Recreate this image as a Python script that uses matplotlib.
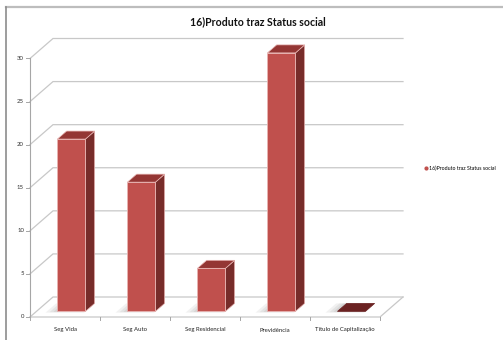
import matplotlib
matplotlib.use("Agg")
import matplotlib.pyplot as plt
from matplotlib.patches import Polygon
from matplotlib.lines import Line2D

# ---- data ----
categories = ["Seg Vida", "Seg Auto", "Seg Residencial", "Previdência",
              "Título de Capitalização"]
values = [20, 15, 5, 30, 0]
series_name = "16)Produto traz Status social"
title = "16)Produto traz Status social"
y_ticks = [0, 5, 10, 15, 20, 25, 30]

# ---- look ----
FONT = ["Lato", "DejaVu Sans"]
C_FRONT = "#C0504D"
C_SIDE = "#772C2A"
C_TOP = "#943634"
C_FLAT = "#6B2222"
C_EDGE = "#E8B4B2"
C_GRID = "#C8C8C8"
C_AXIS = "#A6A6A6"

W, H, DPI = 503, 340, 100
PX_CAT = 70.0            # pixels per category on the front plane
PX_VAL = 258.5 / 30      # pixels per value unit
X0_PX, Y0_PX = 30, 317   # origin of the front plane (pixels from top-left)
DEPTH_X = 23 / PX_CAT    # oblique depth offset, in data units
DEPTH_Y = 20 / PX_VAL
BAR_HALF = 0.2
D_FRONT, D_BACK = 0.28, 0.68

fig = plt.figure(figsize=(W / DPI, H / DPI), dpi=DPI)
ax = fig.add_axes([0, 0, 1, 1])
ax.set_xlim(-X0_PX / PX_CAT, (W - X0_PX) / PX_CAT)
ax.set_ylim((Y0_PX - H) / PX_VAL, Y0_PX / PX_VAL)
ax.axis("off")

n = len(categories)
vmax = y_ticks[-1]


def proj(x, v, d):
    return (x + d * DEPTH_X, v + d * DEPTH_Y)


# frame round the chart
fig.add_artist(Line2D([6 / W, 1], [1 - 6.5 / H] * 2, color="#BDBDBD", lw=1.6))
fig.add_artist(Line2D([6 / W] * 2, [0, 1 - 6.5 / H], color="#8C8C8C", lw=1.2))

# walls and floor gridlines
for v in y_ticks:
    a, b = proj(0, v, 0), proj(0, v, 1)
    c = proj(n, v, 1)
    ax.plot([a[0], b[0], c[0]], [a[1], b[1], c[1]], color=C_GRID, lw=0.9,
            solid_joinstyle="miter", zorder=1)
f0, f1 = proj(0, 0, 0), proj(n, 0, 0)
f2 = proj(n, 0, 1)
ax.plot([f0[0], f1[0], f2[0]], [f0[1], f1[1], f2[1]], color=C_GRID, lw=0.9,
        zorder=1)

# value axis
ax.plot([0, 0], [0, vmax], color=C_AXIS, lw=0.8, zorder=2)
tick_len = 4 / PX_CAT
for v in y_ticks:
    ax.plot([-tick_len, 0], [v, v], color=C_AXIS, lw=0.7, zorder=2)
    ax.text(-tick_len - 2 / PX_CAT, v, str(v), ha="right", va="center",
            fontsize=4.3, family=FONT, color="#333333")

# category axis ticks and labels
for i in range(n + 1):
    ax.plot([i, i], [0, -3 / PX_VAL], color=C_AXIS, lw=0.7, zorder=2)
for i, name in enumerate(categories):
    ax.text(i + 0.5, -13 / PX_VAL, name, ha="center", va="center",
            fontsize=4.3, family=FONT, color="#222222")

# bars
for i, v in enumerate(values):
    x0, x1 = i + 0.5 - BAR_HALF, i + 0.5 + BAR_HALF
    # soft floor shadow
    for k, al in enumerate([0.10, 0.12, 0.14]):
        g = 0.05 * (3 - k)
        sh = [proj(x0 - g, 0, D_FRONT - g * 0.4), proj(x1, 0, D_FRONT - g * 0.4),
              proj(x1, 0, D_BACK), proj(x0 - g, 0, D_BACK)]
        ax.add_patch(Polygon(sh, closed=True, facecolor="#7F7F7F", alpha=al,
                             lw=0, zorder=3))
    top = [proj(x0, v, D_FRONT), proj(x1, v, D_FRONT),
           proj(x1, v, D_BACK), proj(x0, v, D_BACK)]
    if v == 0:
        ax.add_patch(Polygon(top, closed=True, facecolor=C_FLAT,
                             edgecolor=C_FLAT, lw=0.5, zorder=4))
        continue
    side = [proj(x1, 0, D_FRONT), proj(x1, 0, D_BACK),
            proj(x1, v, D_BACK), proj(x1, v, D_FRONT)]
    front = [proj(x0, 0, D_FRONT), proj(x1, 0, D_FRONT),
             proj(x1, v, D_FRONT), proj(x0, v, D_FRONT)]
    ax.add_patch(Polygon(side, closed=True, facecolor=C_SIDE,
                         edgecolor=C_EDGE, lw=0.5, zorder=4))
    ax.add_patch(Polygon(top, closed=True, facecolor=C_TOP,
                         edgecolor=C_EDGE, lw=0.5, zorder=4))
    ax.add_patch(Polygon(front, closed=True, facecolor=C_FRONT,
                         edgecolor=C_EDGE, lw=0.6, zorder=5))

# title
fig.text(258 / W, 1 - 22 / H, title, ha="center", va="center",
         fontsize=7.6, fontweight="bold", family=FONT, color="#111111")

# legend
handle = Line2D([], [], marker="o", linestyle="none", color=C_FRONT,
                markersize=2.0)
leg = ax.legend([handle], [series_name], loc="center left",
                bbox_to_anchor=(421 / W, 1 - 168 / H),
                bbox_transform=fig.transFigure, frameon=False,
                prop={"family": FONT, "size": 3.8}, handlelength=0.8,
                handletextpad=0.3, borderpad=0)

fig.savefig("out.png", dpi=DPI, facecolor="white")
